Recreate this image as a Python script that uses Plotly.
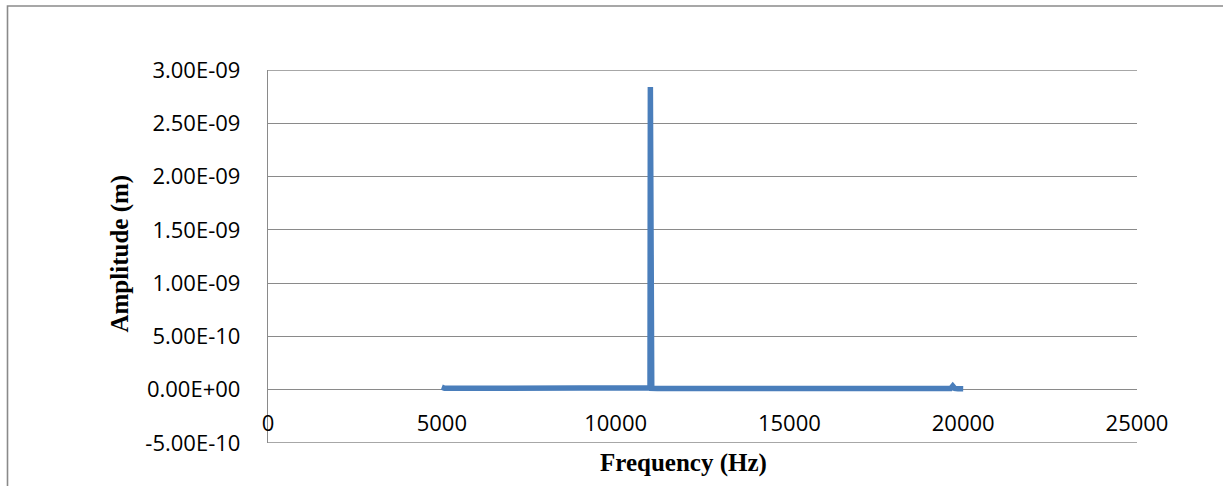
import plotly.graph_objects as go

# ---- data ----
freq_hz = [5000, 5030, 5080, 5200, 5600, 6200, 7000, 7800, 8600, 9400, 10200,
           10800, 10960, 10990, 11000, 11010, 11040, 11200, 12000, 13000, 14000,
           15000, 16000, 17000, 18000, 19000, 19500, 19640, 19700, 19760, 19850, 20000]
amp_m = [2.4e-11, 1.8e-11, 1.4e-11, 1.3e-11, 1.3e-11, 1.25e-11, 1.2e-11, 1.2e-11,
         1.15e-11, 1.15e-11, 1.1e-11, 1.15e-11, 1.3e-11, 1.8e-11, 2.84e-9, 1.8e-11,
         1.3e-11, 1.1e-11, 1.05e-11, 1.0e-11, 1.0e-11, 9.5e-12, 9.5e-12, 9.0e-12,
         9.0e-12, 8.5e-12, 9.0e-12, 1.2e-11, 3.5e-11, 1.2e-11, 9.0e-12, 8.0e-12]

x_tickvals = [0, 5000, 10000, 15000, 20000, 25000]
x_ticktext = ["0", "5000", "10000", "15000", "20000", "25000"]
y_tickvals = [-5e-10, 0, 5e-10, 1e-9, 1.5e-9, 2e-9, 2.5e-9, 3e-9]
y_ticktext = ["-5.00E-10", "0.00E+00", "5.00E-10", "1.00E-09", "1.50E-09",
              "2.00E-09", "2.50E-09", "3.00E-09"]

x_title = "Frequency (Hz)"
y_title = "Amplitude (m)"

GRID = "#8a8a8a"
LINE = "#4A7EBB"

fig = go.Figure()
fig.add_trace(go.Scatter(
    x=freq_hz, y=amp_m, mode="lines",
    line=dict(color=LINE, width=5.5),
    hoverinfo="x+y", showlegend=False,
))

tick_font = dict(family="Open Sans", size=22, color="#000000")
title_font = dict(family="Liberation Serif", size=25, color="#000000")

# edge gridlines (plotly omits gridlines lying on the range ends)
edge_lines = [
    dict(type="line", xref="paper", yref="y", x0=0, x1=1, y0=v, y1=v,
         line=dict(color=GRID, width=1.4), layer="below")
    for v in (y_tickvals[0], y_tickvals[-1])
]

fig.update_layout(
    width=1223, height=486,
    margin=dict(l=268, r=86, t=70, b=43),
    paper_bgcolor="white", plot_bgcolor="white",
    xaxis=dict(
        range=[0, 25000], tickvals=x_tickvals, ticktext=x_ticktext,
        showgrid=False, zeroline=False, showline=False, ticks="",
        anchor="free", position=0.094,
        tickfont=tick_font,
    ),
    yaxis=dict(
        range=[-5e-10, 3e-9], tickvals=y_tickvals, ticktext=y_ticktext,
        showgrid=True, gridcolor=GRID, gridwidth=1.4,
        zeroline=True, zerolinecolor=GRID, zerolinewidth=1.4,
        showline=True, linecolor=GRID, linewidth=1.4,
        ticks="", ticklabelstandoff=22,
        tickfont=tick_font,
    ),
    annotations=[
        dict(text="<b>" + x_title + "</b>", xref="paper", yref="paper",
             x=0.478, y=-0.0536, xanchor="center", yanchor="middle",
             showarrow=False, font=title_font),
        dict(text="<b>" + y_title + "</b>", xref="paper", yref="paper",
             x=-0.1703, y=0.508, xanchor="center", yanchor="middle",
             textangle=-90, showarrow=False, font=title_font),
    ],
    shapes=[
        dict(type="rect", xref="paper", yref="paper",
             xsizemode="pixel", xanchor=0, x0=-260.5, x1=1400,
             ysizemode="pixel", yanchor=1, y0=-900, y1=64,
             line=dict(color=GRID, width=1.6), fillcolor="rgba(0,0,0,0)",
             layer="below"),
    ] + edge_lines,
)

fig.write_html("out.html",
               config={"displayModeBar": False},
               post_script="document.body.style.margin='0px';document.body.style.overflow='hidden';")
